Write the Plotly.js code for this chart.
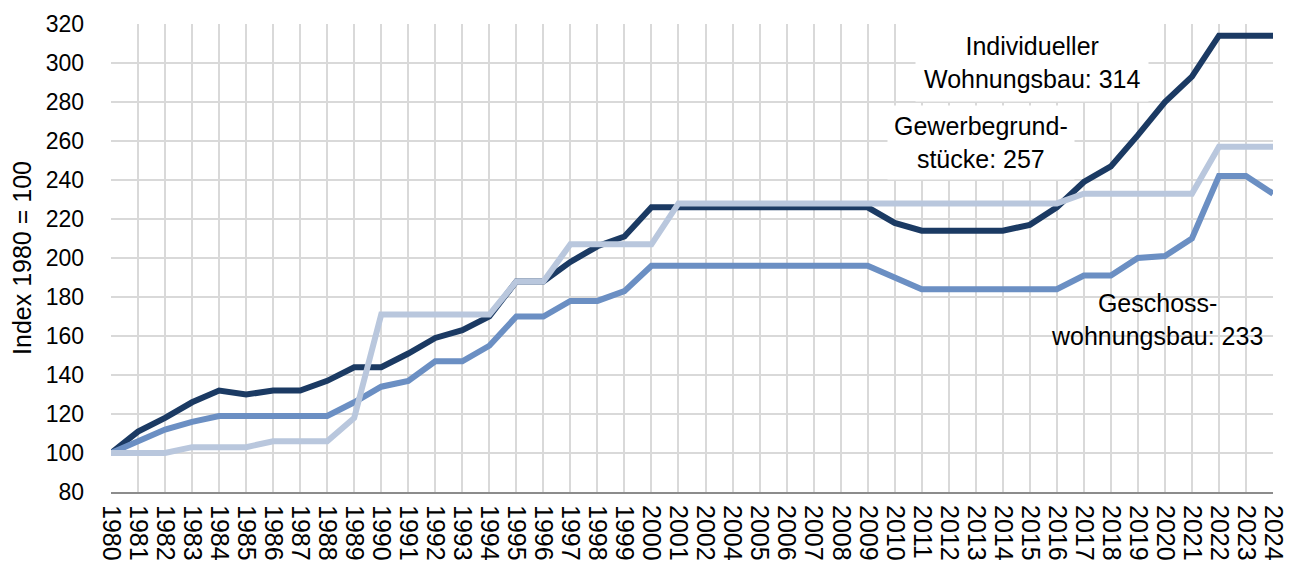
<!DOCTYPE html>
<html>
<head>
<meta charset="utf-8">
<script src="https://cdn.plot.ly/plotly-3.0.1.min.js"></script>
<style>html,body{margin:0;padding:0;background:#fff;}#chart{width:1299px;height:570px;}</style>
</head>
<body>
<div id="chart"></div>
<script>
var years = ["1980","1981","1982","1983","1984","1985","1986","1987","1988","1989",
  "1990","1991","1992","1993","1994","1995","1996","1997","1998","1999",
  "2000","2001","2002","2004","2005","2006","2007","2008","2009","2010",
  "2011","2012","2013","2014","2015","2016","2017","2018","2019","2020",
  "2021","2022","2023","2024"];

var individuellerWohnungsbau = [100,111,118,126,132,130,132,132,137,144,
  144,151,159,163,170,188,188,198,206,211,
  226,226,226,226,226,226,226,226,226,218,
  214,214,214,214,217,226,239,247,263,280,
  293,314,314,314];

var geschosswohnungsbau = [100,106,112,116,119,119,119,119,119,126,
  134,137,147,147,155,170,170,178,178,183,
  196,196,196,196,196,196,196,196,196,190,
  184,184,184,184,184,184,191,191,200,201,
  210,242,242,233];

var gewerbegrundstuecke = [100,100,100,103,103,103,106,106,106,118,
  171,171,171,171,171,188,188,207,207,207,
  207,228,228,228,228,228,228,228,228,228,
  228,228,228,228,228,228,233,233,233,233,
  233,257,257,257];

var seriesNames = ["Individueller Wohnungsbau", "Geschosswohnungsbau", "Gewerbegrundstücke"];
var labelTexts = ["Individueller<br>Wohnungsbau: 314", "Gewerbegrund-<br>stücke: 257", "Geschoss-<br>wohnungsbau: 233"];

var font = "Liberation Sans, Arial, sans-serif";

var traces = [
  {x: years, y: individuellerWohnungsbau, name: seriesNames[0], type: "scatter", mode: "lines",
   line: {color: "#1b3a63", width: 6}},
  {x: years, y: geschosswohnungsbau, name: seriesNames[1], type: "scatter", mode: "lines",
   line: {color: "#6b8fc3", width: 6}},
  {x: years, y: gewerbegrundstuecke, name: seriesNames[2], type: "scatter", mode: "lines",
   line: {color: "#b9c7dd", width: 6}}
];

var layout = {
  width: 1299, height: 570,
  margin: {l: 111, r: 26, t: 24, b: 78},
  paper_bgcolor: "#ffffff", plot_bgcolor: "#ffffff",
  showlegend: false,
  font: {family: font, color: "#000000"},
  xaxis: {
    type: "category", categoryorder: "array", categoryarray: years,
    range: [0, 43],
    tickmode: "array", tickvals: years, ticktext: years,
    showgrid: true, gridcolor: "#d9d9d9", gridwidth: 2,
    showline: true, linecolor: "#8c8c8c", linewidth: 2,
    zeroline: false,
    tickangle: 90,
    tickfont: {family: font, size: 25, color: "#000"},
    ticks: "", ticklabelstandoff: 6,
    fixedrange: true
  },
  yaxis: {
    range: [80, 320], dtick: 20, tick0: 80,
    showgrid: true, gridcolor: "#d9d9d9", gridwidth: 2,
    zeroline: false, showline: false,
    tickfont: {family: font, size: 23, color: "#000"},
    ticks: "", ticklabelstandoff: 26,
    title: {text: "Index 1980 = 100", font: {family: font, size: 25, color: "#000"}, standoff: 6},
    fixedrange: true
  },
  annotations: [
    {xref: "x", yref: "y", x: 34.1, y: 300.5, text: labelTexts[0], showarrow: false,
     font: {family: font, size: 25, color: "#000"}, bgcolor: "#ffffff", borderpad: 8, align: "center"},
    {xref: "x", yref: "y", x: 32.2, y: 259, text: labelTexts[1], showarrow: false,
     font: {family: font, size: 25, color: "#000"}, bgcolor: "#ffffff", borderpad: 6, align: "center"},
    {xref: "x", yref: "y", x: 38.7, y: 168.7, text: labelTexts[2], showarrow: false,
     font: {family: font, size: 25, color: "#000"}, align: "center"}
  ]
};

Plotly.newPlot("chart", traces, layout, {displayModeBar: false, staticPlot: true});
</script>
</body>
</html>
